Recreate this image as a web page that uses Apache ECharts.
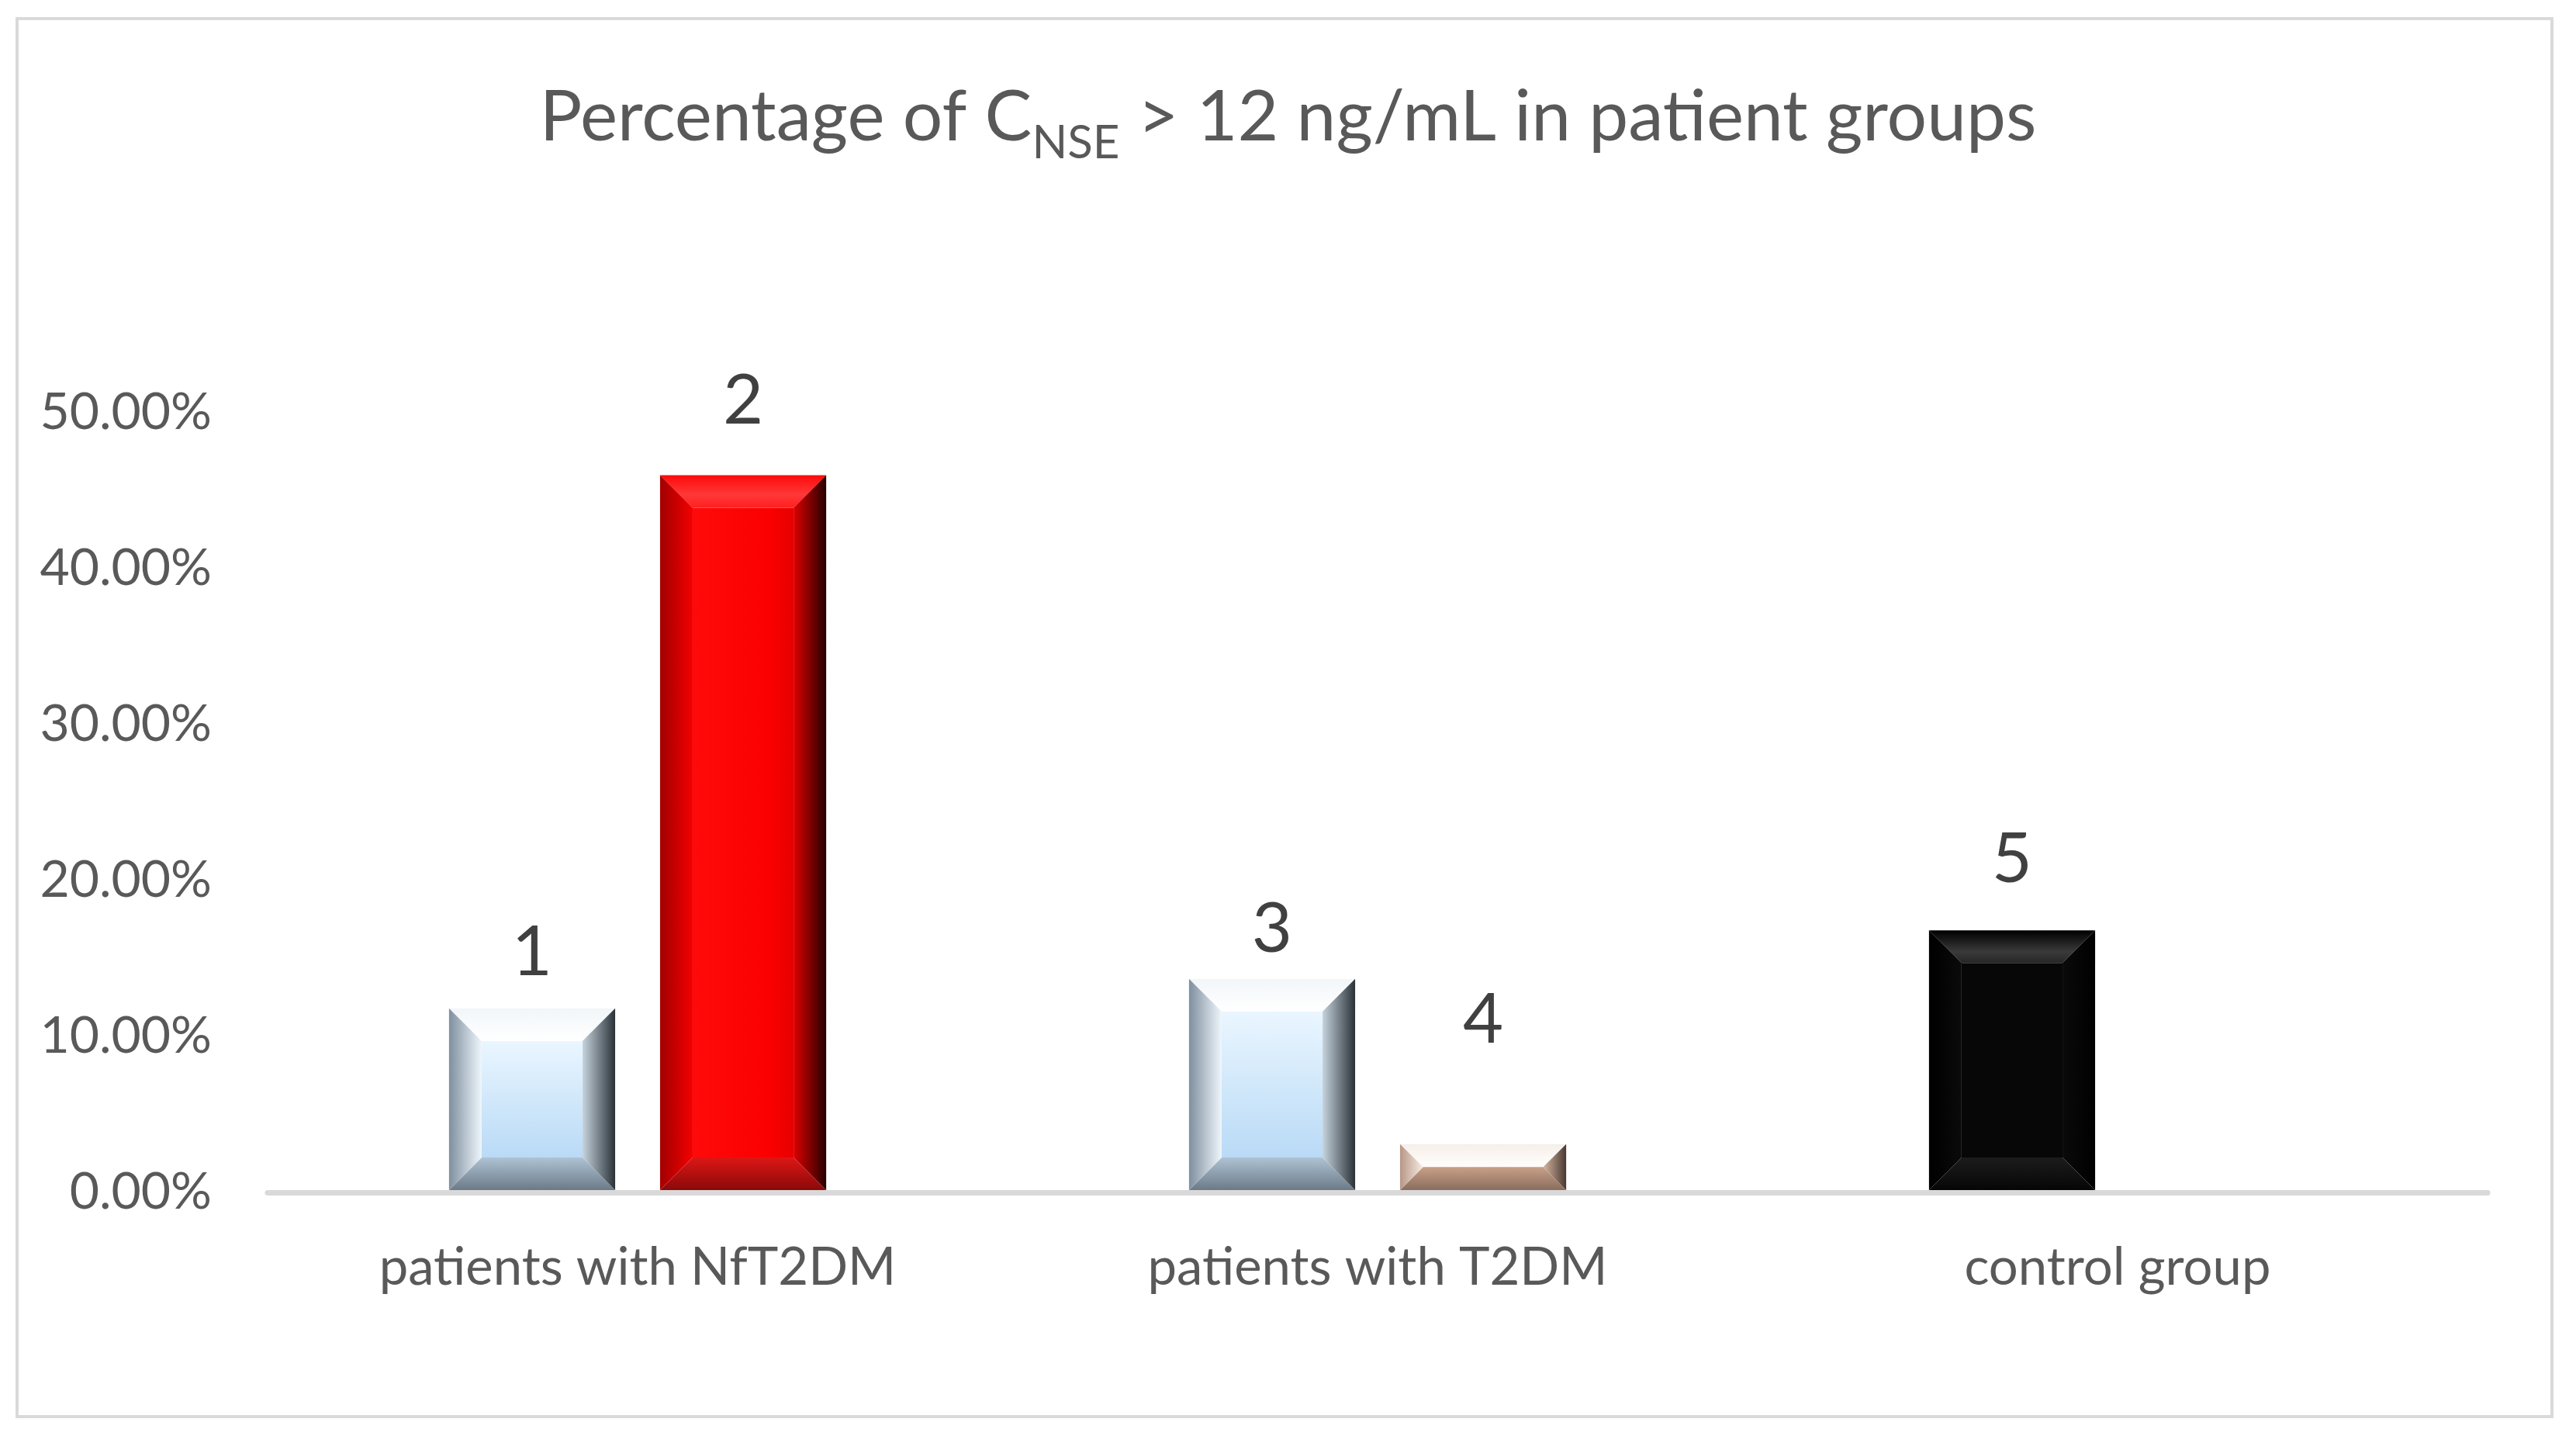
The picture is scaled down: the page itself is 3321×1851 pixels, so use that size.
<!DOCTYPE html>
<html>
<head>
<meta charset="utf-8">
<script src="https://cdn.jsdelivr.net/npm/echarts@6/dist/echarts.min.js"></script>
<style>
html,body{margin:0;padding:0;background:#fff;}
#chart{width:3321px;height:1851px;}
</style>
</head>
<body>
<div id="chart"></div>
<script>
// ---- data ----
const categories = ['patients with NfT2DM', 'patients with T2DM', 'control group'];
const seriesAValues = [0.118, 0.137, 0.168];
const seriesBValues = [0.46, 0.031, null];
const seriesALabels = ['1', '3', '5'];
const seriesBLabels = ['2', '4', ''];
const yTickValues = [0, 0.1, 0.2, 0.3, 0.4, 0.5];

// ---- styles ----
const FONT = 'Lato';
const BAR_FRAC = 0.2245;
const OFFSET_FRAC = 0.1426;
const labelGapA = [72, 64, 91];
const labelGapB = [95, 160];

function lin(vertical, stops) {
  return {type: 'linear', x: 0, y: 0, x2: vertical ? 0 : 1, y2: vertical ? 1 : 0,
    colorStops: stops.map(s => ({offset: s[0], color: s[1]}))};
}
const PAL = {
  blue: {
    face: lin(true, [[0, '#eaf6ff'], [1, '#b9daf6']]),
    top: lin(true, [[0, '#f2f6f9'], [1, '#ffffff']]),
    bottom: lin(true, [[0, '#aec3d4'], [1, '#6c7a87']]),
    left: lin(false, [[0, '#7f8f9e'], [1, '#eef6fc']]),
    right: lin(false, [[0, '#c6d3dd'], [1, '#2a3238']])
  },
  red: {
    face: lin(false, [[0, '#ff0a0a'], [0.75, '#fb0000'], [1, '#e60000']]),
    top: lin(true, [[0, '#ff0a0a'], [0.6, '#ff3838'], [1, '#ff2020']]),
    bottom: lin(true, [[0, '#de1616'], [1, '#8a0909']]),
    left: lin(false, [[0, '#a20000'], [1, '#f20000']]),
    right: lin(false, [[0, '#dc0000'], [1, '#250000']])
  },
  tan: {
    face: lin(true, [[0, '#fffaf5'], [1, '#e6c6ae']]),
    top: lin(true, [[0, '#f6efe9'], [1, '#fffdfb']]),
    bottom: lin(true, [[0, '#c8a088'], [1, '#8a6d5d']]),
    left: lin(false, [[0, '#b79786'], [1, '#f6ebe2']]),
    right: lin(false, [[0, '#d6b6a2'], [1, '#483830']])
  },
  black: {
    face: '#070707',
    top: lin(true, [[0, '#000000'], [0.65, '#3a3a3a'], [1, '#262626']]),
    bottom: lin(true, [[0, '#1c1c1c'], [1, '#060606']]),
    left: lin(false, [[0, '#000000'], [1, '#0a0a0a']]),
    right: lin(false, [[0, '#0a0a0a'], [1, '#000000']])
  }
};
const palettesA = [PAL.blue, PAL.blue, PAL.black];
const palettesB = [PAL.red, PAL.tan];

function makeRender(offsetFrac, palettes, labels, gaps) {
  return function (params, api) {
    const i = api.value(0);
    const v = api.value(1);
    if (v == null || isNaN(v)) return;
    const top = api.coord([i, v]);
    const base = api.coord([i, 0]);
    const band = api.size([1, 0])[0];
    const w = band * BAR_FRAC;
    const cx = top[0] + offsetFrac * band;
    const x0 = cx - w / 2, x1 = cx + w / 2;
    const y0 = top[1], y1 = base[1] - 3;
    const h = y1 - y0;
    const b = Math.min(42, h / 2, w / 2);
    const p = palettes[i];
    const children = [
      {type: 'rect', shape: {x: x0 + b, y: y0 + b, width: w - 2 * b, height: Math.max(0, h - 2 * b)}, style: {fill: p.face}},
      {type: 'polygon', shape: {points: [[x0, y0], [x1, y0], [x1 - b, y0 + b], [x0 + b, y0 + b]]}, style: {fill: p.top}},
      {type: 'polygon', shape: {points: [[x0, y1], [x1, y1], [x1 - b, y1 - b], [x0 + b, y1 - b]]}, style: {fill: p.bottom}},
      {type: 'polygon', shape: {points: [[x0, y0], [x0 + b, y0 + b], [x0 + b, y1 - b], [x0, y1]]}, style: {fill: p.left}},
      {type: 'polygon', shape: {points: [[x1, y0], [x1 - b, y0 + b], [x1 - b, y1 - b], [x1, y1]]}, style: {fill: p.right}},
      {type: 'text', style: {text: labels[i], x: cx, y: y0 - gaps[i], align: 'center', verticalAlign: 'middle',
        font: '90px ' + FONT, fill: '#404040'}}
    ];
    return {type: 'group', children: children};
  };
}

const chart = echarts.init(document.getElementById('chart'), null, {renderer: 'canvas'});
chart.setOption({
  backgroundColor: '#ffffff',
  animation: false,
  title: {
    left: 'center',
    top: 84,
    text: '{a|Percentage of C}{b|NSE}{a| > 12 ng/mL in patient groups}',
    textStyle: {
      fontWeight: 'normal',
      rich: {
        a: {fontFamily: FONT, fontSize: 91, fontWeight: 'normal', lineHeight: 126, color: '#595959', verticalAlign: 'middle'},
        b: {fontFamily: FONT, fontSize: 60, fontWeight: 'normal', lineHeight: 60, color: '#595959', verticalAlign: 'bottom'}
      }
    }
  },
  graphic: [{
    type: 'rect', z: -1,
    shape: {x: 22, y: 24, width: 3268, height: 1802},
    style: {fill: 'none', stroke: '#d9d9d9', lineWidth: 4}
  }],
  grid: {left: 345, right: 114, top: 532, bottom: 314},
  xAxis: {
    type: 'category',
    data: categories,
    axisLine: {show: true, lineStyle: {color: '#d9d9d9', width: 7}},
    axisTick: {show: false},
    axisLabel: {fontFamily: FONT, fontSize: 67, color: '#595959', margin: 64},
    z: 5
  },
  yAxis: {
    type: 'value',
    min: 0, max: 0.5, interval: 0.1,
    axisLine: {show: false},
    axisTick: {show: false},
    splitLine: {show: false},
    axisLabel: {
      fontFamily: FONT, fontSize: 66, color: '#595959', margin: 72,
      formatter: v => (v * 100).toFixed(2) + '%'
    }
  },
  series: [
    {
      type: 'custom', name: 'A', z: 2,
      encode: {x: 0, y: 1},
      data: seriesAValues.map((v, i) => [i, v]).filter(d => d[1] != null),
      renderItem: makeRender(-OFFSET_FRAC, palettesA, seriesALabels, labelGapA)
    },
    {
      type: 'custom', name: 'B', z: 2,
      encode: {x: 0, y: 1},
      data: seriesBValues.map((v, i) => [i, v]).filter(d => d[1] != null),
      renderItem: makeRender(OFFSET_FRAC, palettesB, seriesBLabels, labelGapB)
    }
  ]
});
</script>
</body>
</html>
